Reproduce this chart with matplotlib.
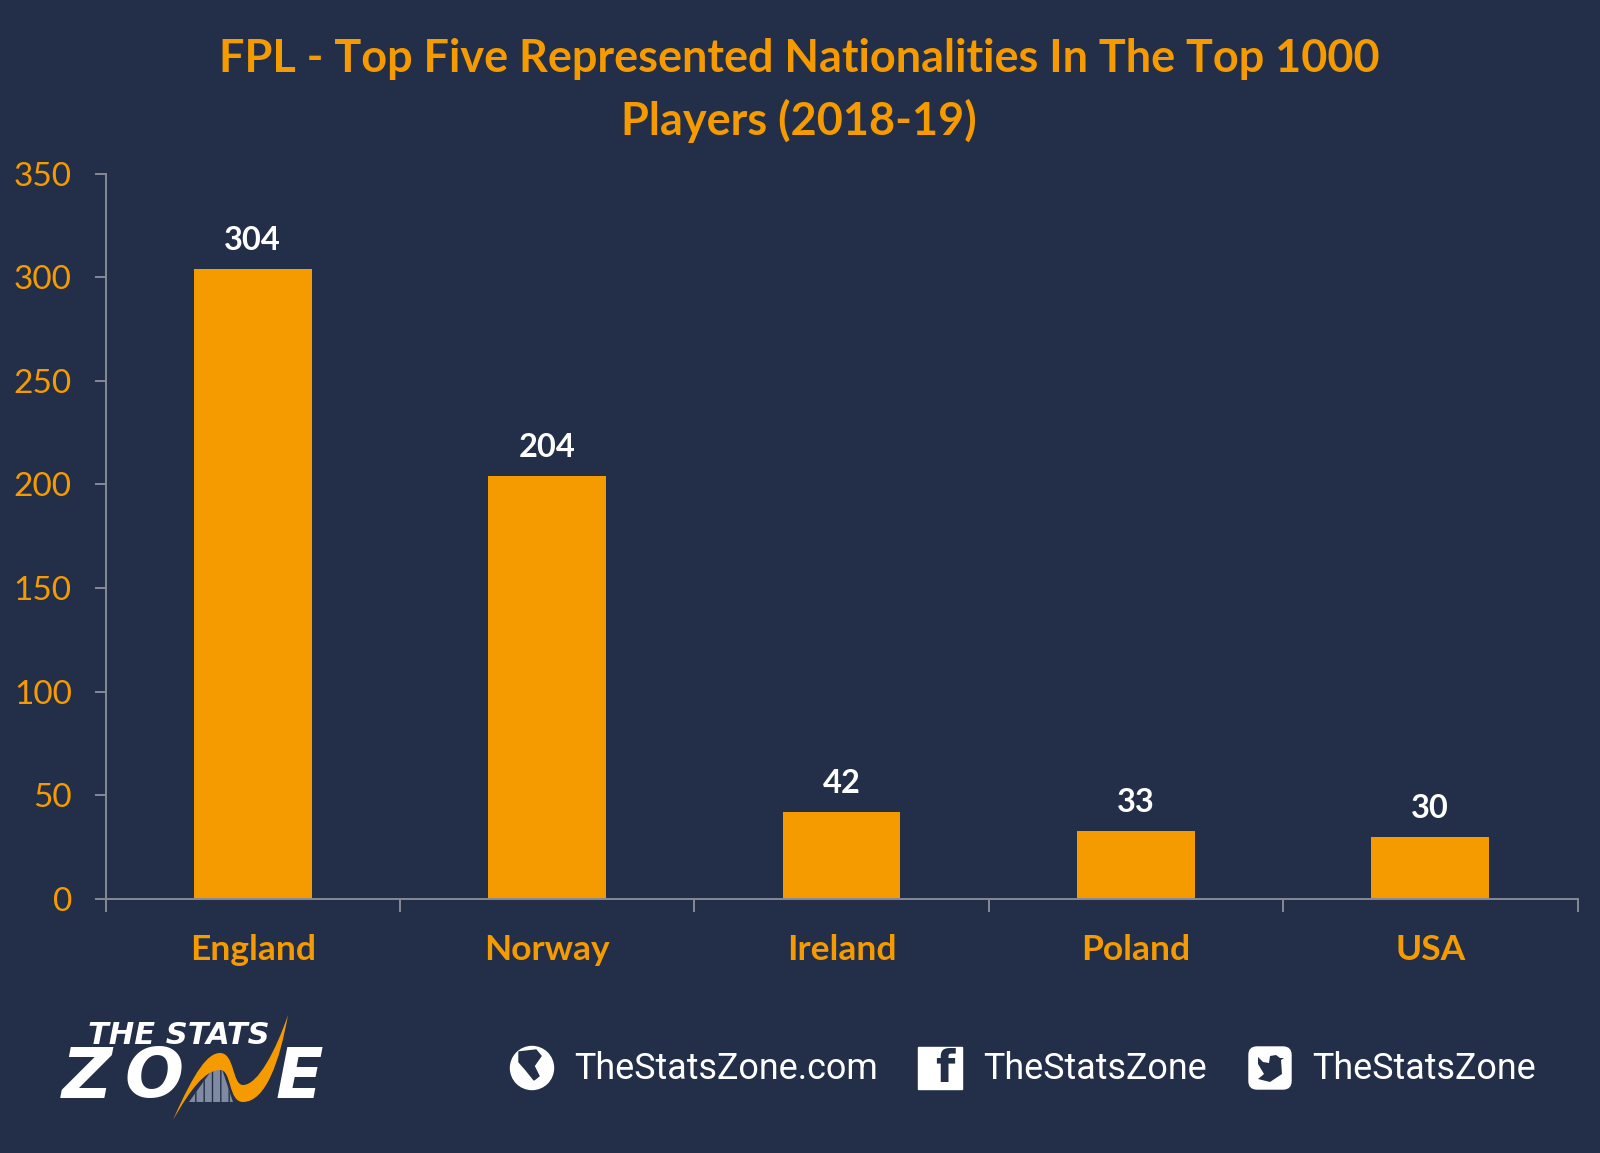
import matplotlib
matplotlib.use('Agg')
import matplotlib.pyplot as plt
from matplotlib.patches import Circle, FancyBboxPatch, PathPatch, Polygon, Rectangle
from matplotlib.path import Path

countries = ['England', 'Norway', 'Ireland', 'Poland', 'USA']
players = [304, 204, 42, 33, 30]
y_ticks = [0, 50, 100, 150, 200, 250, 300, 350]
title = 'FPL - Top Five Represented Nationalities In The Top 1000\nPlayers (2018-19)'
site_text = 'TheStatsZone.com'
social_text = 'TheStatsZone'

BG = '#232F48'
ORANGE = '#F59B00'
AXIS = '#858A94'
W, H = 1600, 1153

plt.rcParams['font.family'] = ['Lato', 'DejaVu Sans']

fig = plt.figure(figsize=(W / 100, H / 100), dpi=100, facecolor=BG)

# chart, placed in pixels
left, right, top, bottom = 105.5, 1577.5, 173.5, 899
ax = fig.add_axes([left / W, 1 - bottom / H, (right - left) / W, (bottom - top) / H], facecolor=BG)
pos = list(range(len(countries)))
ax.bar(pos, players, width=0.4, color=ORANGE)
ax.set_xlim(-0.5, len(countries) - 0.5)
ax.set_ylim(0, 350)

for s in ['top', 'right']:
    ax.spines[s].set_visible(False)
for s in ['left', 'bottom']:
    ax.spines[s].set_color(AXIS)
    ax.spines[s].set_linewidth(1.4)

ax.set_yticks(y_ticks)
ax.tick_params(axis='y', length=8, width=1.4, color=AXIS, labelcolor=ORANGE, labelsize=24, pad=16.3)
# ticks sit between the categories, labels under them
ax.set_xticks([p - 0.5 for p in pos] + [pos[-1] + 0.5])
ax.set_xticklabels([])
ax.tick_params(axis='x', which='major', length=9, width=1.4, color=AXIS)
ax.set_xticks(pos, minor=True)
ax.set_xticklabels(countries, minor=True, fontweight='bold', fontsize=25.5, color=ORANGE)
ax.tick_params(axis='x', which='minor', length=0, pad=25.5)

for p, v in zip(pos, players):
    ax.annotate(str(v), (p, v), xytext=(0, 10), textcoords='offset points', ha='center', va='bottom',
                color='white', fontweight='bold', fontsize=23.5)

fig.text(799 / W, 1 - 90.5 / H, title, ha='center', va='center', color=ORANGE, fontweight='bold',
         fontsize=32.4, linespacing=1.5)

# footer overlay in pixel coordinates
ov = fig.add_axes([0, 0, 1, 1], facecolor='none')
ov.set_xlim(0, W)
ov.set_ylim(H, 0)
ov.axis('off')

# logo, the N of ZONE is the swoosh itself
ov.text(88, 1036, 'THE STATS', color='white', fontsize=22, fontweight='bold', fontstyle='italic',
        family='DejaVu Sans', va='center', ha='left')
for x, letter in [(62, 'Z'), (124, 'O'), (276, 'E')]:
    ov.text(x, 1078, letter, color='white', fontsize=50, fontweight='bold', fontstyle='italic',
            family='DejaVu Sans', va='center', ha='left')
ov.add_patch(Polygon([(189, 1102), (219, 1060), (233, 1102)], closed=True, facecolor='#7F8AA3',
                     edgecolor=BG, hatch='||', linewidth=0, zorder=3))
swoosh = Path(
    [(173, 1120), (195, 1070), (208, 1053), (220, 1053), (235, 1053), (232, 1085), (243, 1085),
     (258, 1085), (276, 1050), (288, 1015), (280, 1060), (266, 1102), (243, 1102),
     (228, 1102), (232, 1070), (220, 1070), (205, 1070), (190, 1090), (173, 1120)],
    [Path.MOVETO] + [Path.CURVE4] * 18)
ov.add_patch(PathPatch(swoosh, facecolor=ORANGE, edgecolor='none', zorder=4))

# globe
ov.add_patch(Circle((532, 1068), 21.5, color='white'))
ov.add_patch(Polygon([(519, 1052), (536, 1050), (541, 1056), (534, 1066), (539, 1076), (534, 1080),
                      (526, 1070), (519, 1062)], closed=True, color=BG))
ov.text(574, 1069, site_text, color='white', family='Roboto', fontsize=25.8, va='center', ha='left')

# facebook
ov.add_patch(Rectangle((918, 1047), 44, 42, color='white'))
ov.text(945, 1070, 'f', color=BG, family='DejaVu Sans', fontweight='bold', fontsize=32, va='center', ha='center')
ov.text(983, 1069, social_text, color='white', family='Roboto', fontsize=25.8, va='center', ha='left')

# twitter
ov.add_patch(FancyBboxPatch((1254, 1052), 32, 32, boxstyle='round,pad=5,rounding_size=8', color='white'))
bird = Path(
    [(1258, 1079), (1270, 1082), (1282, 1074), (1281, 1060), (1284, 1058), (1280, 1058), (1276, 1055),
     (1270, 1056), (1269, 1063), (1263, 1062), (1258, 1057), (1258, 1064), (1261, 1069),
     (1264, 1074), (1258, 1079)],
    [Path.MOVETO] + [Path.LINETO] * 13 + [Path.CLOSEPOLY])
ov.add_patch(PathPatch(bird, facecolor=BG, edgecolor='none'))
ov.text(1312, 1069, social_text, color='white', family='Roboto', fontsize=25.8, va='center', ha='left')

fig.savefig('out.png', dpi=100, facecolor=BG)
